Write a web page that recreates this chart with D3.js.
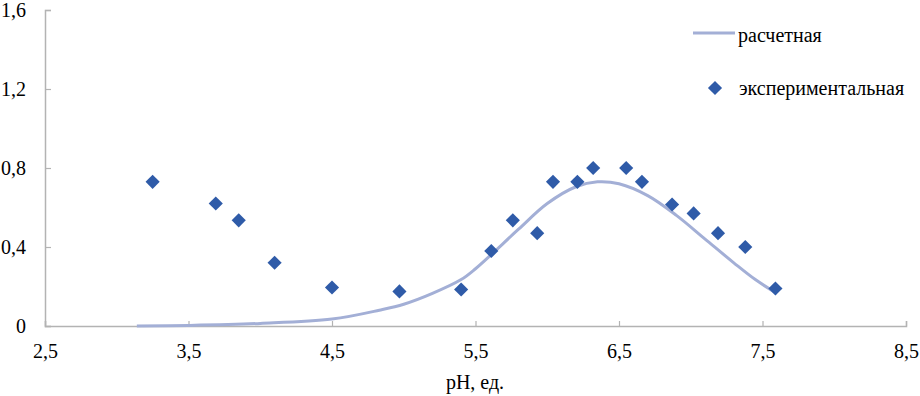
<!DOCTYPE html>
<html>
<head>
<meta charset="utf-8">
<script src="https://cdn.jsdelivr.net/npm/d3@7"></script>
<style>
  svg, svg text { font-family: "Liberation Serif", "Times New Roman", serif !important; }
</style>
</head>
<body style="margin:0; background:#fff">
<svg id="chart" width="920" height="396" style="font-family:'Liberation Serif'" font-family="Liberation Serif"></svg>
<script>
// Data.
const expX = [3.25, 3.69, 3.85, 4.10, 4.50, 4.97, 5.40, 5.61, 5.76, 5.93, 6.04, 6.21, 6.32, 6.55, 6.66, 6.87, 7.02, 7.19, 7.38, 7.59];
const expY = [0.73, 0.62, 0.535, 0.32, 0.195, 0.175, 0.185, 0.38, 0.535, 0.47, 0.73, 0.73, 0.80, 0.80, 0.73, 0.615, 0.57, 0.47, 0.40, 0.19];
const calcX = [3.14, 3.5, 4.0, 4.5, 4.83, 5.0, 5.2, 5.4, 5.5, 5.6, 5.8, 6.0, 6.2, 6.35, 6.5, 6.7, 6.9, 7.1, 7.3, 7.45, 7.6];
const calcY = [0.0, 0.003, 0.013, 0.035, 0.08, 0.11, 0.165, 0.235, 0.29, 0.355, 0.49, 0.62, 0.705, 0.73, 0.72, 0.66, 0.56, 0.44, 0.32, 0.235, 0.165];
const xTicks = [2.5, 3.5, 4.5, 5.5, 6.5, 7.5, 8.5];
const yTicks = [0, 0.4, 0.8, 1.2, 1.6];
const legendNames = ["расчетная", "экспериментальная"];
const xTitle = "pH, ед.";

const LINE_COLOR = "#a3afd6";
const MARK_COLOR = "#2f5ba8";
const AXIS_COLOR = "#b3b3b3";
const FONT = "Liberation Serif";

const svg = d3.select("#chart");
const fmt = (d) => String(d).replace(".", ",");
const styleText = (sel) => sel.attr("font-size", 20).attr("font-family", FONT).attr("fill", "#000");

const x = d3.scaleLinear().domain([2.5, 8.5]).range([45, 906]);
const y = d3.scaleLinear().domain([0, 1.6]).range([326, 10]);

// Axes
const xAxis = svg.append("g").attr("transform", "translate(0,326)")
  .call(d3.axisBottom(x).tickValues(xTicks).tickSize(-5).tickPadding(0).tickFormat(fmt));
const yAxis = svg.append("g").attr("transform", "translate(45,0)")
  .call(d3.axisLeft(y).tickValues(yTicks).tickSize(-6).tickPadding(0).tickFormat(fmt));

[xAxis, yAxis].forEach((a) => {
  a.attr("font-family", FONT).attr("font-size", 20);
  a.select(".domain").attr("stroke", AXIS_COLOR).attr("stroke-width", 1.5);
  a.selectAll(".tick line").attr("stroke", AXIS_COLOR).attr("stroke-width", 1.2);
  a.selectAll("text").call(styleText);
});
xAxis.selectAll(".tick text").attr("y", 32).attr("dy", null);
yAxis.selectAll(".tick text").attr("x", -19).attr("dy", "0.32em");

// Axis title
svg.append("text").attr("x", 475).attr("y", 389).attr("text-anchor", "middle")
  .call(styleText).text(xTitle);

// Calculated curve
const calc = calcX.map((d, i) => ({ x: d, y: calcY[i] }));
svg.append("path").datum(calc)
  .attr("fill", "none")
  .attr("stroke", LINE_COLOR)
  .attr("stroke-width", 3)
  .attr("d", d3.line().x((d) => x(d.x)).y((d) => y(d.y)).curve(d3.curveCatmullRom));

// Experimental points
const diamond = d3.symbol().type(d3.symbolSquare).size(100);
const exp = expX.map((d, i) => ({ x: d, y: expY[i] }));
svg.append("g").selectAll("path").data(exp).enter().append("path")
  .attr("d", diamond)
  .attr("fill", MARK_COLOR)
  .attr("transform", (d) => "translate(" + x(d.x) + "," + y(d.y) + ") rotate(45)");

// Legend
const legend = svg.append("g");
legend.append("line").attr("x1", 693).attr("x2", 735).attr("y1", 33).attr("y2", 33)
  .attr("stroke", LINE_COLOR).attr("stroke-width", 3);
legend.append("text").attr("x", 738).attr("y", 42).call(styleText).text(legendNames[0]);
legend.append("path").attr("d", diamond).attr("fill", MARK_COLOR)
  .attr("transform", "translate(715,88) rotate(45)");
legend.append("text").attr("x", 739).attr("y", 95).call(styleText).text(legendNames[1]);
</script>
</body>
</html>
